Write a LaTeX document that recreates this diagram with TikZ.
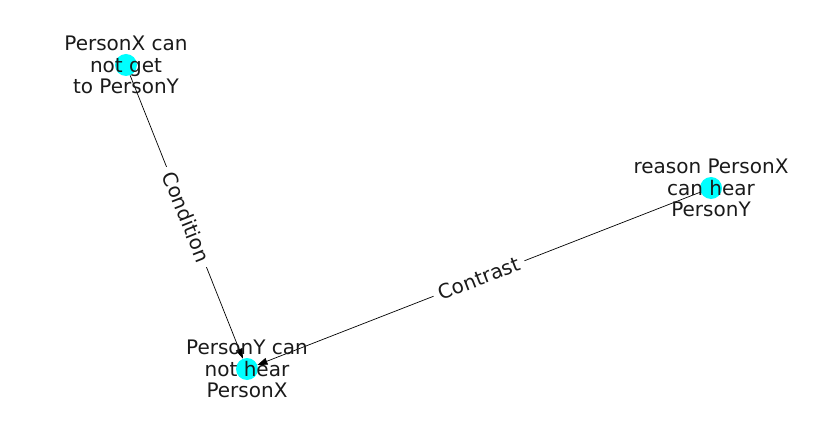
\documentclass[tikz,border=0pt]{standalone}
\usepackage{fontspec}
\setmainfont{DejaVu Sans}
\usetikzlibrary{arrows.meta}
\definecolor{nodecyan}{RGB}{0,255,255}
\definecolor{txtcol}{RGB}{26,26,26}
\begin{document}
\begin{tikzpicture}[x=1pt,y=1pt,
  vert/.style={circle,fill=nodecyan,minimum size=22pt,inner sep=0pt},
  txt/.style={align=center,font=\fontsize{20pt}{21.5pt}\selectfont,text=txtcol,inner sep=0pt},
  conn/.style={draw=black,line width=0.7pt,-{Stealth[length=10pt,width=7pt,inset=0pt]}},
  elab/.style={fill=white,font=\fontsize{20pt}{21.5pt}\selectfont,text=txtcol,inner xsep=6pt,inner ysep=2pt}]
\useasboundingbox (0,0) rectangle (837,434);
\node[vert] (a) at (126,369) {};
\node[vert] (b) at (711,246) {};
\node[vert] (c) at (247,65) {};
\draw[conn] (a) -- node[elab,sloped] {Condition} (c);
\draw[conn] (b) -- node[elab,sloped] {Contrast} (c);
\node[txt] (ta) at (a) {PersonX can\\not get\\to PersonY};
\node[txt] (tb) at (b) {reason PersonX\\can hear\\PersonY};
\node[txt] (tc) at (c) {PersonY can\\not hear\\PersonX};
\end{tikzpicture}
\end{document}
